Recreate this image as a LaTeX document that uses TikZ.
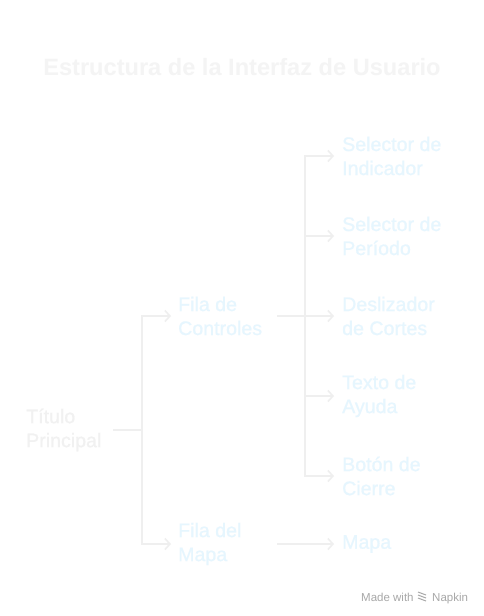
\documentclass[tikz,border=0pt]{standalone}
\usepackage{fontspec}
\setmainfont{Liberation Sans}
\newfontfamily\medfont[FakeBold=0.6]{Liberation Sans}
\usetikzlibrary{arrows.meta}
\definecolor{titlegray}{HTML}{F4F4F4}
\definecolor{rootgray}{HTML}{F1F1F1}
\definecolor{leafblue}{HTML}{E6F6FE}
\definecolor{linegray}{HTML}{EFEFEF}
\definecolor{markgray}{HTML}{A8A8A8}
\begin{document}
\begin{tikzpicture}[x=1pt,y=-1pt,
  lbl/.style={anchor=west,align=left,inner sep=0pt,font=\medfont\fontsize{19.6}{24}\selectfont},
  rootlbl/.style={lbl,text=rootgray},
  leaflbl/.style={lbl,text=leafblue},
  conn/.style={draw=linegray,line width=1.8pt},
  arr/.style={conn,-{Straight Barb[length=5pt,width=11pt,line width=1.6pt]}},
  marklbl/.style={anchor=base west,inner sep=0pt,font=\fontsize{11.5}{13}\selectfont,text=markgray}]
\useasboundingbox (0,0) rectangle (484,616);
\fill[white] (0,0) rectangle (484,616);
\node[font=\bfseries\fontsize{23.6}{28}\selectfont,text=titlegray] (title) at (242,67) {Estructura de la Interfaz de Usuario};
\node[rootlbl] (root) at (26,430) {Título\\Principal};
\node[leaflbl] (ctrl) at (178,316) {Fila de\\Controles};
\node[leaflbl] (mapr) at (178,544) {Fila del\\Mapa};
\node[leaflbl] (sind) at (342,156) {Selector de\\Indicador};
\node[leaflbl] (sper) at (342,236) {Selector de\\Período};
\node[leaflbl] (desl) at (342,316) {Deslizador\\de Cortes};
\node[leaflbl] (ayuda) at (342,396) {Texto de\\Ayuda};
\node[leaflbl] (cierre) at (342,476) {Botón de\\Cierre};
\node[leaflbl] (mapa) at (342,544) {Mapa};
\coordinate (j1) at (142,430);
\coordinate (j2) at (305,316);
\draw[conn] (113,430) -- (j1);
\draw[conn] (142,315) -- (142,545);
\draw[arr] (142,316) -- ([xshift=-7pt]ctrl.west);
\draw[arr] (142,544) -- ([xshift=-7pt]mapr.west);
\draw[conn] (277,316) -- (j2);
\draw[conn] (305,155) -- (305,477);
\foreach \n in {sind,sper,desl,ayuda,cierre}
  \draw[arr] (305,0 |- \n.west) -- ([xshift=-8pt]\n.west);
\draw[arr] (277,544) -- ([xshift=-8pt]mapa.west);
\node[marklbl] (made) at (361,601) {Made with};
\node[marklbl] (napkin) at (432,601) {Napkin};
\foreach \d in {0,3,6}
  \draw[markgray,line width=1pt] (418,592+\d) -- (426,595+\d);
\end{tikzpicture}
\end{document}
